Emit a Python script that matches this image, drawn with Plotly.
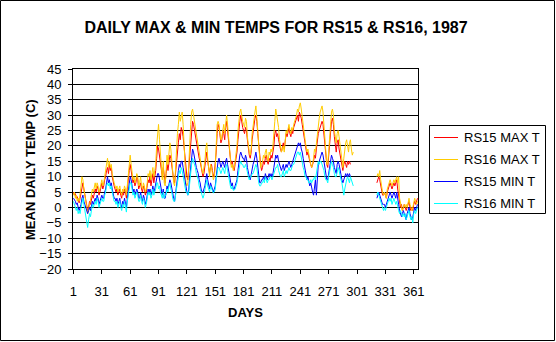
import plotly.graph_objects as go

days = list(range(1, 366))

rs15_max = [
    5, 4, 4.5, 3, 3.5, 2, 1.5, 3, 5, 7,
    8, 6, 4, 3, 1, -1, 0, 2, 1, 3,
    4, 3, 5, 6, 5, 7, 6, 4, 5, 7,
    8, 6, 7, 9, 10, 12, 13, 11, 14, 12,
    13, 10, 8, 7, 6, 5, 6, 4, 5, 6,
    4, 3, 5, 4, 6, 5, 3, 7, 10, 12,
    14, 12, 10, 8, 9, 7, 8, 10, 9, 6,
    7, 8, 6, 5, 7, 6, 4, 5, 7, 9,
    8, 10, 7, 9, 11, 8, 10, 12, 16, 20,
    19, 17, 15, 12, 10, 13, 9, 8, 11, 14,
    12, 15, 17, 16, 13, 11, 9, 8, 12, 16,
    19, 21, 24, 22, 26, 25, 23, 20, 15, 12,
    10, 9, 13, 18, 22, 26, 28, 27, 25, 24,
    22, 20, 18, 16, 15, 13, 12, 10, 11, 13,
    16, 18, 15, 12, 11, 13, 14, 12, 10, 11,
    14, 18, 24, 27, 26, 23, 21, 22, 25, 24,
    22, 26, 28, 25, 21, 18, 16, 14, 15, 13,
    12, 14, 16, 18, 22, 26, 28, 30, 27, 26,
    25, 24, 26, 25, 22, 19, 17, 16, 18, 22,
    25, 27, 29, 30, 28, 24, 20, 16, 14, 12,
    13, 15, 14, 16, 17, 15, 14, 16, 15, 17,
    16, 18, 20, 24, 25, 23, 24, 22, 20, 19,
    18, 20, 21, 19, 22, 24, 23, 25, 26, 24,
    23, 25, 24, 26, 27, 28, 29, 30, 28, 31,
    30, 29, 27, 25, 23, 21, 19, 17, 18, 16,
    15, 14, 13, 14, 15, 17, 16, 19, 22, 24,
    25, 26, 27, 28, 27, 24, 20, 16, 14, 13,
    17, 22, 25, 28, 29, 27, 23, 20, 18, 21,
    22, 19, 17, 15, 13, 12, 14, 15, 14, 13,
    15, 14, 15, 14, None, None, None,
] + [None] * 24 + [
    8, 9, 10, 9, 7, 5, 4, 4, 5,
    4, 3, 5, 6, 7, 8, 7, 6, 7, 8,
    7, 8, 9, 6, 4, 1, 0, 1, -1, 0,
    1, 0, -1, 0, 1, 2, 0, -1, 0, -1,
    1, 2, 1, 2, 3,
]

rs16_max = [
    4, 5, 3, 4, 2, 3, 2, 4, 7, 10,
    9, 6, 3, 2, 0, -2, -1, 1, 2, 4,
    6, 5, 7, 8, 6, 8, 7, 5, 6, 8,
    9, 7, 8, 10, 12, 14, 16, 13, 15, 13,
    14, 11, 9, 8, 7, 6, 7, 5, 6, 7,
    5, 4, 6, 5, 7, 6, 4, 8, 12, 15,
    17, 14, 11, 9, 10, 8, 9, 11, 10, 7,
    8, 10, 7, 6, 8, 7, 5, 6, 8, 11,
    10, 12, 9, 11, 13, 10, 12, 14, 20, 25,
    27, 22, 18, 13, 9, 15, 8, 7, 12, 17,
    14, 18, 21, 19, 15, 12, 8, 7, 14, 20,
    24, 27, 31, 28, 30, 31, 27, 22, 14, 8,
    7, 8, 14, 22, 27, 31, 32, 30, 28, 26,
    24, 22, 20, 17, 16, 14, 12, 11, 13, 15,
    19, 21, 16, 12, 10, 14, 13, 11, 9, 10,
    13, 20, 27, 28, 27, 24, 22, 23, 26, 27,
    24, 28, 30, 27, 22, 19, 16, 13, 14, 12,
    13, 15, 17, 20, 25, 29, 31, 32, 29, 28,
    27, 26, 29, 28, 23, 20, 18, 17, 19, 24,
    27, 29, 31, 33, 30, 25, 20, 15, 13, 14,
    15, 17, 16, 18, 19, 16, 15, 18, 17, 19,
    18, 20, 23, 28, 32, 30, 28, 26, 22, 19,
    18, 19, 20, 18, 21, 25, 24, 26, 27, 25,
    24, 26, 25, 27, 28, 29, 30, 32, 31, 33,
    34, 32, 29, 26, 24, 22, 20, 18, 19, 17,
    15, 14, 13, 14, 16, 19, 18, 21, 25, 28,
    29, 31, 32, 33, 31, 26, 21, 16, 14, 14,
    19, 25, 29, 31, 32, 30, 25, 22, 21, 24,
    25, 23, 20, 17, 14, 13, 16, 19, 21, 22,
    20, 18, 21, 22, 19, 17, 18,
] + [None] * 24 + [
    10, 11, 10, 12, 9, 6, 5, 4, 5,
    4, 3, 6, 7, 8, 9, 8, 7, 8, 9,
    8, 9, 10, 8, 10, 3, 1, 0, -1, 0,
    1, 0, 1, 0, 2, 3, 1, 0, -1, 0,
    2, 3, 2, 1, 2,
]

rs15_min = [
    3, 2.5, 2, 1, 1.5, 0, -1, 0, 1, 3,
    4, 2, 1, 0, -1, -2, -1, 0, -1, 1,
    2, 1, 2, 3, 2, 4, 3, 1, 2, 3,
    4, 3, 3, 5, 6, 8, 10, 8, 9, 7,
    8, 6, 4, 3, 3, 2, 3, 1, 2, 3,
    1, 0, 2, 1, 3, 1, 0, 3, 5, 8,
    10, 9, 7, 5, 6, 4, 5, 6, 5, 3,
    3, 5, 3, 2, 4, 3, 1, 2, 4, 6,
    5, 6, 4, 5, 7, 5, 6, 8, 10, 11,
    11, 9, 7, 5, 4, 6, 3, 3, 5, 7,
    6, 8, 9, 8, 6, 4, 3, 2, 5, 8,
    10, 12, 14, 13, 15, 15, 13, 11, 8, 6,
    5, 4, 6, 10, 13, 16, 19, 18, 16, 15,
    13, 12, 11, 9, 8, 6, 5, 5, 6, 7,
    9, 11, 9, 7, 6, 8, 7, 6, 5, 6,
    7, 10, 14, 15, 16, 14, 13, 14, 15, 14,
    13, 15, 16, 14, 12, 10, 9, 7, 8, 6,
    6, 7, 8, 9, 12, 15, 17, 18, 17, 16,
    16, 15, 17, 16, 13, 11, 10, 9, 11, 13,
    14, 15, 17, 18, 16, 13, 10, 8, 8, 9,
    9, 10, 9, 11, 10, 9, 10, 11, 10, 11,
    10, 11, 13, 15, 17, 16, 17, 15, 14, 13,
    12, 13, 14, 12, 13, 14, 13, 14, 15, 14,
    13, 14, 15, 16, 17, 18, 19, 20, 21, 20,
    21, 19, 18, 16, 14, 12, 11, 9, 10, 8,
    7, 8, 6, 5, 4, 7, 9, 4, 11, 14,
    15, 16, 17, 18, 17, 15, 12, 10, 9, 9,
    11, 14, 16, 17, 16, 15, 13, 12, 11, 14,
    15, 14, 12, 11, 9, 8, 9, 10, 11, 10,
    11, 10, 11, 10, None, None, None,
] + [None] * 24 + [
    3, 4, 5, 4, 3, 2, 1, 1, 1,
    0, 1, 2, 3, 4, 5, 4, 3, 4, 5,
    4, 3, 5, 2, 1, -1, -2, -3, -2, -1,
    -2, -3, -4, -2, -1, 0, -2, -3, -4, -3,
    -1, 0, -1, 0, 1,
]

rs16_min = [
    2, 1, 0, -1, 0, -2, -1, -2, 0, 2,
    3, 1, -1, -3, -5, -6.5, -4, -2, -3, 0,
    1, 0, 1, 2, 1, 3, 2, 0, 1, 2,
    3, 2, 2, 4, 5, 7, 8, 7, 8, 6,
    7, 5, 3, 2, 2, 1, 2, 0, 1, 2,
    0, -1, 1, 0, 2, 0, -1.5, 2, 4, 7,
    8, 8, 6, 4, 5, 3, 4, 5, 4, 2,
    2, 4, 2, 1, 3, 2, 0, 1, 3, 5,
    4, 5, 3, 4, 6, 4, 5, 6, 8, 8,
    6, 7, 5, 4, 3, 5, 3, 4, 4, 6,
    5, 7, 8, 6, 5, 3, 2, 2, 4, 7,
    9, 10, 12, 11, 13, 12, 10, 9, 6, 5,
    5, 4, 5, 9, 11, 14, 16, 15, 14, 13,
    11, 10, 9, 7, 6, 5, 4, 3, 4, 6,
    8, 9, 7, 6, 5, 7, 6, 5, 4.7, 5,
    6, 9, 12, 13, 13, 12, 11, 12, 13, 12,
    11, 13, 14, 12, 10, 8, 7, 6, 7, 5.6,
    5.6, 6, 7, 8, 10, 13, 14, 15, 14, 14,
    13, 13, 14, 13, 11, 10, 9, 10, 10, 11,
    11, 12, 13, 14, 13, 10, 8, 7, 7, 8,
    8, 9, 8, 10, 9, 8, 9, 9, 10, 10,
    9, 10, 11, 12, 13, 13, 14, 12, 11, 10,
    10, 11, 12, 10, 11, 12, 11, 12, 13, 12,
    12, 13, 14, 14, 15, 16, 17, 18, 18, 17,
    18, 16, 15, 13, 12, 10, 10, 9, 9, 8,
    8, 9, 8, 9, 9, 10, 9, 11, 13, 15,
    14, 15, 15, 14, 13, 12, 10, 9, 9, 8,
    10, 12, 14, 15, 14, 13, 11, 10, 10, 12,
    13, 12, 10, 9, 8, 6, 4, 6, 8, 9,
    10, 9, 8, 10, 9, 8, 7,
] + [None] * 24 + [
    4, 5, 4, 3, 2, 1, 0, -1, 0,
    -1, 0, 1, 2, 3, 2, 3, 1, 2, 3,
    2, 1, 2, 0, -1, -2, -1, -2, -3, -2,
    -3, -2, -4, -3, -2, -1, -3, -4, -3, -5,
    -2, -1, -2, -1, 0,
]

series_names = ["RS15 MAX T", "RS16 MAX T", "RS15 MIN T", "RS16 MIN T"]
series_values = [rs15_max, rs16_max, rs15_min, rs16_min]
series_colors = ["#FF0000", "#FFCC00", "#0000FF", "#00FFFF"]

x_tick_vals = list(range(1, 366, 30))
y_tick_vals = list(range(-20, 50, 5))

FONT = "Liberation Sans, Arial, sans-serif"

fig = go.Figure()
for name, vals, col in zip(series_names, series_values, series_colors):
    fig.add_trace(go.Scatter(
        x=days[:len(vals)], y=vals, mode="lines", name=name,
        line=dict(color=col, width=1), connectgaps=False, showlegend=False,
    ))

W, H = 556, 342
L, R, T, B = 73, 418, 69, 269
pw, ph = R - L, B - T

def px_x(p):
    return (p - L) / pw

def px_y(p):
    return (B - p) / ph

shapes = [
    dict(type="rect", xref="paper", yref="paper",
         x0=px_x(0.5), x1=px_x(554.5), y0=px_y(0.5), y1=px_y(340.5),
         line=dict(color="black", width=1), fillcolor="rgba(0,0,0,0)",
         layer="below"),
    dict(type="rect", xref="paper", yref="paper",
         x0=px_x(429.5), x1=px_x(545.5), y0=px_y(125.5), y1=px_y(213.5),
         line=dict(color="black", width=1), fillcolor="white", layer="above"),
]
annotations = [
    dict(text="<b>MEAN DAILY TEMP (C)</b>", textangle=-90,
         xref="paper", yref="paper", x=px_x(30), y=px_y(170),
         xanchor="center", yanchor="middle", showarrow=False,
         font=dict(family=FONT, size=13, color="black")),
    dict(text="<b>DAYS</b>", xref="paper", yref="paper",
         x=px_x(245), y=px_y(312), xanchor="center", yanchor="middle",
         showarrow=False, font=dict(family=FONT, size=13, color="black")),
]
legend_rows = [137.5, 159.5, 181.5, 203.5]
for name, col, ry in zip(series_names, series_colors, legend_rows):
    shapes.append(dict(type="line", xref="paper", yref="paper",
                       x0=px_x(434), x1=px_x(458), y0=px_y(ry), y1=px_y(ry),
                       line=dict(color=col, width=1), layer="above"))
    annotations.append(dict(text=name, xref="paper", yref="paper",
                            x=px_x(462), y=px_y(ry), xanchor="left",
                            yanchor="middle", showarrow=False,
                            font=dict(family=FONT, size=13, color="black")))

fig.update_layout(
    width=W, height=H,
    margin=dict(l=L, r=W - R, t=T, b=H - B, pad=0),
    paper_bgcolor="white", plot_bgcolor="white",
    font=dict(family=FONT, size=13, color="black"),
    title=dict(text="<b>DAILY MAX & MIN TEMPS FOR RS15 & RS16, 1987</b>",
               x=px_x(276), xref="paper", xanchor="center",
               y=1 - 27 / H, yanchor="middle",
               font=dict(family=FONT, size=16, color="black")),
    showlegend=False,
    xaxis=dict(range=[0.5, 365.5], tickmode="array", tickvals=x_tick_vals,
               ticks="outside", ticklen=4, tickcolor="black", tickwidth=1,
               showline=True, linecolor="black", linewidth=1, mirror=True,
               showgrid=False, zeroline=False, ticklabelstandoff=6,
               tickfont=dict(family=FONT, size=13, color="black")),
    yaxis=dict(range=[-20, 45], tickmode="array", tickvals=y_tick_vals,
               ticks="outside", ticklen=4, tickcolor="black", tickwidth=1,
               showline=True, linecolor="black", linewidth=1, mirror=True,
               showgrid=True, gridcolor="black", gridwidth=1,
               zeroline=False, ticklabelstandoff=4,
               tickfont=dict(family=FONT, size=13, color="black")),
    annotations=annotations,
    shapes=shapes,
)

fig.write_html("out.html")
